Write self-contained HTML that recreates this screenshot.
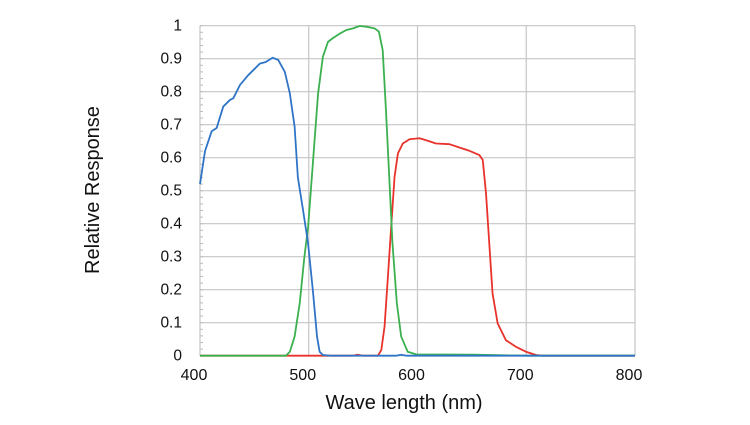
<!DOCTYPE html>
<html><head><meta charset="utf-8"><style>
body{margin:0;background:#fff;}
svg text{font-family:"Liberation Sans",sans-serif;fill:#111;}
</style></head><body>
<svg width="750" height="420" viewBox="0 0 750 420">
<g id="grid"></g>
<g id="axes"></g>
<g id="series"></g>
<text x="99" y="190" font-size="20" text-anchor="middle" transform="rotate(-90 99 190)">Relative Response</text>
<text x="404" y="409" font-size="20" text-anchor="middle">Wave length (nm)</text>
</svg>
<script>
const xTicks=[400,500,600,700,800];
const yTicks=[0,0.1,0.2,0.3,0.4,0.5,0.6,0.7,0.8,0.9,1];
const yTickLabels=["0","0.1","0.2","0.3","0.4","0.5","0.6","0.7","0.8","0.9","1"];
const blueNm=[400,404.6,410.7,415.3,421.4,427.5,430.6,436.7,444.3,455,460.5,466.7,472,478,482.6,487,490,494.8,499.4,504,507.6,510,513,520,580,585,590,800];
const blueVal=[.52,.62,.68,.69,.755,.775,.78,.82,.85,.885,.89,.903,.896,.86,.795,.694,.54,.44,.34,.19,.058,.012,.002,0,0,.003,0,0];
const greenNm=[400,479,482.6,487,491.7,496,499.4,504,508.6,513,517.7,522,528,534.6,540.7,546.8,553,560.5,564.5,568,571,574,577,581,585,591,598.8,650,669,700,800];
const greenVal=[0,0,.012,.058,.159,.3,.39,.593,.795,.906,.951,.962,.975,.987,.992,.999,.997,.992,.982,.926,.744,.542,.34,.159,.058,.012,.004,.003,.002,0,0];
const redNm=[400,540,545,550,563.6,566.7,569.7,572.8,575.8,578.9,582,586.5,592.7,601.8,608,617,629.4,638.5,647.7,656.9,660,663,666,669,673.7,681.3,690.5,699.7,709,715,800];
const redVal=[0,0,.003,0,0,.017,.088,.24,.39,.542,.613,.643,.656,.659,.653,.643,.641,.631,.621,.608,.593,.492,.34,.189,.098,.047,.027,.012,.002,0,0];
const X0=200,X1=635,Y0=355.7,Y1=25.7;
const sx=v=>X0+(v-400)/400*(X1-X0);
const sy=v=>Y0-v*(Y0-Y1);
const NS="http://www.w3.org/2000/svg";
function mk(tag,parent,attrs){const e=document.createElementNS(NS,tag);for(const k in attrs)e.setAttribute(k,attrs[k]);parent.appendChild(e);return e;}
const grid=document.getElementById('grid'),axes=document.getElementById('axes'),series=document.getElementById('series');
yTicks.forEach((t,i)=>{
  const l=mk('line',grid,{x1:X0,x2:X1,y1:sy(t),y2:sy(t),stroke:'#c6c6c6','stroke-width':1.2});
  
  
  const tx=mk('text',axes,{x:182,y:sy(t)+5,'font-size':15.5,'text-anchor':'end'});
  tx.textContent=yTickLabels[i];
  
  
});
for(let v=0;v<=1.0001;v+=0.02){
  const m=mk('line',axes,{x1:X0,x2:X0+3,y1:sy(v),y2:sy(v),stroke:'#bbb','stroke-width':1});
  
  
}
xTicks.forEach(t=>{
  const l=mk('line',grid,{x1:sx(t),x2:sx(t),y1:Y1,y2:Y0,stroke:'#c6c6c6','stroke-width':1.2});
  
  
  const tx=mk('text',axes,{x:sx(t)-6,y:380,'font-size':16,'text-anchor':'middle'});
  tx.textContent=String(t);
  
  
});
function line(nm,val,color,name){
  const d=nm.map((n,i)=>(i?'L':'M')+sx(n).toFixed(2)+' '+sy(val[i]).toFixed(2)).join(' ');
  const p=mk('path',series,{d:d,fill:'none',stroke:color,'stroke-width':1.8,'stroke-linejoin':'round'});
  
  
}
line(redNm,redVal,'#e8322b','red-channel-line');
line(greenNm,greenVal,'#3bb04f','green-channel-line');
line(blueNm,blueVal,'#2f74c6','blue-channel-line');
</script>
</body></html>
